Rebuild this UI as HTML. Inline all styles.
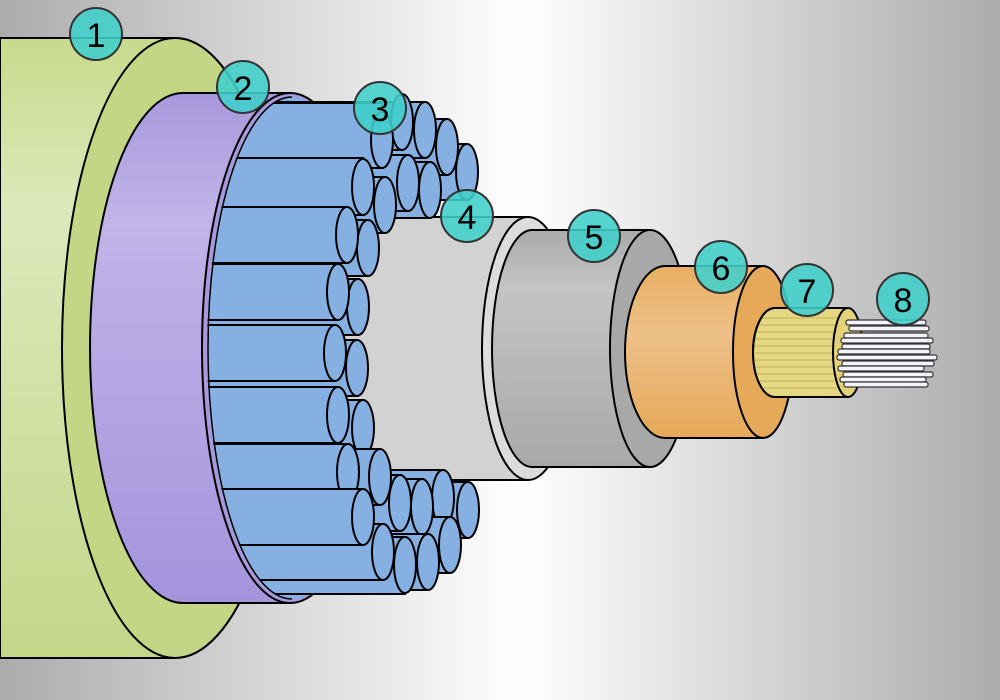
<!DOCTYPE html>
<html><head><meta charset="utf-8"><style>
html,body{margin:0;padding:0;width:1000px;height:700px;overflow:hidden}
svg{display:block}
text{font-family:"Liberation Sans","DejaVu Sans",sans-serif;font-size:34px;text-anchor:middle;dominant-baseline:central;fill:#000}
</style></head><body>
<svg width="1000" height="700" viewBox="0 0 1000 700" xmlns="http://www.w3.org/2000/svg">
<defs>
<linearGradient id="bg" x1="0" x2="1" y1="0" y2="0">
<stop offset="0" stop-color="#acacac"/><stop offset="0.52" stop-color="#ffffff"/><stop offset="1" stop-color="#acacac"/></linearGradient>
<linearGradient id="gr" x1="0" x2="0" y1="0" y2="1">
<stop offset="0" stop-color="#c8da8c"/><stop offset="0.28" stop-color="#dde8bb"/><stop offset="1" stop-color="#c4d688"/></linearGradient>
<linearGradient id="pu" x1="0" x2="0" y1="0" y2="1">
<stop offset="0" stop-color="#a898dc"/><stop offset="0.25" stop-color="#c0b4e8"/><stop offset="1" stop-color="#a494dc"/></linearGradient>
<linearGradient id="g5" x1="0" x2="0" y1="0" y2="1">
<stop offset="0" stop-color="#aaa"/><stop offset="0.25" stop-color="#c4c4c4"/><stop offset="1" stop-color="#a8a8a8"/></linearGradient>
<linearGradient id="or" x1="0" x2="0" y1="0" y2="1">
<stop offset="0" stop-color="#e8ae62"/><stop offset="0.4" stop-color="#ecc088"/><stop offset="1" stop-color="#e6a858"/></linearGradient>
<clipPath id="wc"><rect x="290" y="0" width="300" height="700"/><ellipse cx="290" cy="348" rx="83" ry="250"/></clipPath>
</defs>
<rect width="1000" height="700" fill="url(#bg)"/>
<g stroke="#000" stroke-width="2">
<path d="M0 38 H175 A113 310 0 0 1 175 658 H0 Z" fill="url(#gr)"/>
<ellipse cx="175" cy="348" rx="113" ry="310" fill="#c4d686"/>
<path d="M183 93 H290 V603 H183 A93 255 0 0 1 183 93 Z" fill="url(#pu)"/>
<ellipse cx="290" cy="348" rx="88" ry="255" fill="#a898dc"/>
<ellipse cx="292" cy="348" rx="84" ry="251" fill="#87b0e2" stroke="none"/>
<rect x="300" y="217" width="228" height="263" fill="#d2d2d2"/>
<ellipse cx="528" cy="348.5" rx="46" ry="131.5" fill="#dcdcdc"/>
<g clip-path="url(#wc)" fill="#87b0e2">
<path d="M200 144H467V200H200Z"/><ellipse cx="467" cy="172" rx="11" ry="28"/>
<path d="M200 119H447V175H200Z"/><ellipse cx="447" cy="147" rx="11" ry="28"/>
<path d="M200 102H425V158H200Z"/><ellipse cx="425" cy="130" rx="11" ry="28"/>
<path d="M200 102H402V150H200Z"/><ellipse cx="402" cy="122" rx="11" ry="28"/>
<path d="M200 162H430V218H200Z"/><ellipse cx="430" cy="190" rx="11" ry="28"/>
<path d="M200 155H408V211H200Z"/><ellipse cx="408" cy="183" rx="11" ry="28"/>
<path d="M200 103H382V168H200Z"/><ellipse cx="382" cy="140" rx="11" ry="28"/>
<path d="M200 177H385V233H200Z"/><ellipse cx="385" cy="205" rx="11" ry="28"/>
<path d="M200 158H363V215H200Z"/><ellipse cx="363" cy="187" rx="11" ry="28"/>
<path d="M200 220H368V276H200Z"/><ellipse cx="368" cy="248" rx="11" ry="28"/>
<path d="M200 207H347V263H200Z"/><ellipse cx="347" cy="235" rx="11" ry="28"/>
<path d="M200 279H358V335H200Z"/><ellipse cx="358" cy="307" rx="11" ry="28"/>
<path d="M200 264H338V320H200Z"/><ellipse cx="338" cy="292" rx="11" ry="28"/>
<path d="M200 340H357V396H200Z"/><ellipse cx="357" cy="368" rx="11" ry="28"/>
<path d="M200 325H335V381H200Z"/><ellipse cx="335" cy="353" rx="11" ry="28"/>
<path d="M200 400H363V456H200Z"/><ellipse cx="363" cy="428" rx="11" ry="28"/>
<path d="M200 387H338V443H200Z"/><ellipse cx="338" cy="415" rx="11" ry="28"/>
<path d="M200 482H468V538H200Z"/><ellipse cx="468" cy="510" rx="11" ry="28"/>
<path d="M200 470H443V526H200Z"/><ellipse cx="443" cy="498" rx="11" ry="28"/>
<path d="M200 517H450V573H200Z"/><ellipse cx="450" cy="545" rx="11" ry="28"/>
<path d="M200 479H422V535H200Z"/><ellipse cx="422" cy="507" rx="11" ry="28"/>
<path d="M200 534H428V590H200Z"/><ellipse cx="428" cy="562" rx="11" ry="28"/>
<path d="M200 475H400V531H200Z"/><ellipse cx="400" cy="503" rx="11" ry="28"/>
<path d="M200 537H405V594H200Z"/><ellipse cx="405" cy="565" rx="11" ry="28"/>
<path d="M200 449H380V505H200Z"/><ellipse cx="380" cy="477" rx="11" ry="28"/>
<path d="M200 444H348V500H200Z"/><ellipse cx="348" cy="472" rx="11" ry="28"/>
<path d="M200 524H383V580H200Z"/><ellipse cx="383" cy="552" rx="11" ry="28"/>
<path d="M200 489H363V545H200Z"/><ellipse cx="363" cy="517" rx="11" ry="28"/>
</g>
<path d="M292 97 A84 251 0 0 0 292 599" fill="none" stroke-width="1.5"/>
<path d="M532 230 H650 V467 H532 A40 118.5 0 0 1 532 230 Z" fill="url(#g5)"/>
<ellipse cx="650" cy="348.5" rx="40" ry="118.5" fill="#a8a8a8"/>
<path d="M665 266 H763 V438 H665 A40 86 0 0 1 665 266 Z" fill="url(#or)"/>
<ellipse cx="763" cy="352" rx="30" ry="86" fill="#e6a95a"/>
<path d="M775 308 H848 V397 H775 A22 44.5 0 0 1 775 308 Z" fill="#e6d782"/>
</g>
<g stroke="#c2b25a" stroke-width="1.3" opacity="0.8">
<line x1="756" y1="318" x2="846" y2="318"/><line x1="754" y1="325" x2="846" y2="325"/><line x1="753" y1="332" x2="846" y2="332"/><line x1="753" y1="339" x2="846" y2="339"/><line x1="753" y1="346" x2="846" y2="346"/><line x1="753" y1="353" x2="846" y2="353"/><line x1="753" y1="360" x2="846" y2="360"/><line x1="753" y1="367" x2="846" y2="367"/><line x1="753" y1="374" x2="846" y2="374"/><line x1="754" y1="381" x2="846" y2="381"/><line x1="756" y1="388" x2="846" y2="388"/>
</g>
<path d="M775 308 H848 V397 H775 A22 44.5 0 0 1 775 308 Z" fill="none" stroke="#000" stroke-width="2"/>
<ellipse cx="848" cy="352.5" rx="15" ry="44.5" fill="#e3d27a" stroke="#000" stroke-width="2"/>
<g fill="#f4f4fa" stroke="#333" stroke-width="1.2">
<rect x="846" y="320" width="80" height="5" rx="2"/>
<rect x="849" y="326" width="80" height="5" rx="2"/>
<rect x="844" y="333" width="84" height="5" rx="2"/>
<rect x="841" y="338" width="92" height="5" rx="2"/>
<rect x="842" y="344" width="88" height="5" rx="2"/>
<rect x="838" y="349" width="92" height="5" rx="2"/>
<rect x="837" y="355" width="100" height="5" rx="2"/>
<rect x="842" y="361" width="92" height="5" rx="2"/>
<rect x="838" y="366" width="86" height="5" rx="2"/>
<rect x="843" y="372" width="90" height="5" rx="2"/>
<rect x="840" y="377" width="86" height="5" rx="2"/>
<rect x="844" y="382" width="84" height="5" rx="2"/>
</g>
<g fill="#3fcfcb" fill-opacity="0.88" stroke="#333" stroke-width="2">
<circle cx="96" cy="34" r="26"/><circle cx="243" cy="87" r="26"/><circle cx="380" cy="108" r="26"/><circle cx="467" cy="216" r="26"/>
<circle cx="594" cy="236" r="26"/><circle cx="721" cy="267" r="26"/><circle cx="807" cy="290" r="26"/><circle cx="903" cy="299" r="26"/>
</g>
<text x="96" y="36">1</text><text x="243" y="89">2</text><text x="380" y="110">3</text><text x="467" y="218">4</text>
<text x="594" y="238">5</text><text x="721" y="269">6</text><text x="807" y="292">7</text><text x="903" y="301">8</text>
</svg>
</body></html>
